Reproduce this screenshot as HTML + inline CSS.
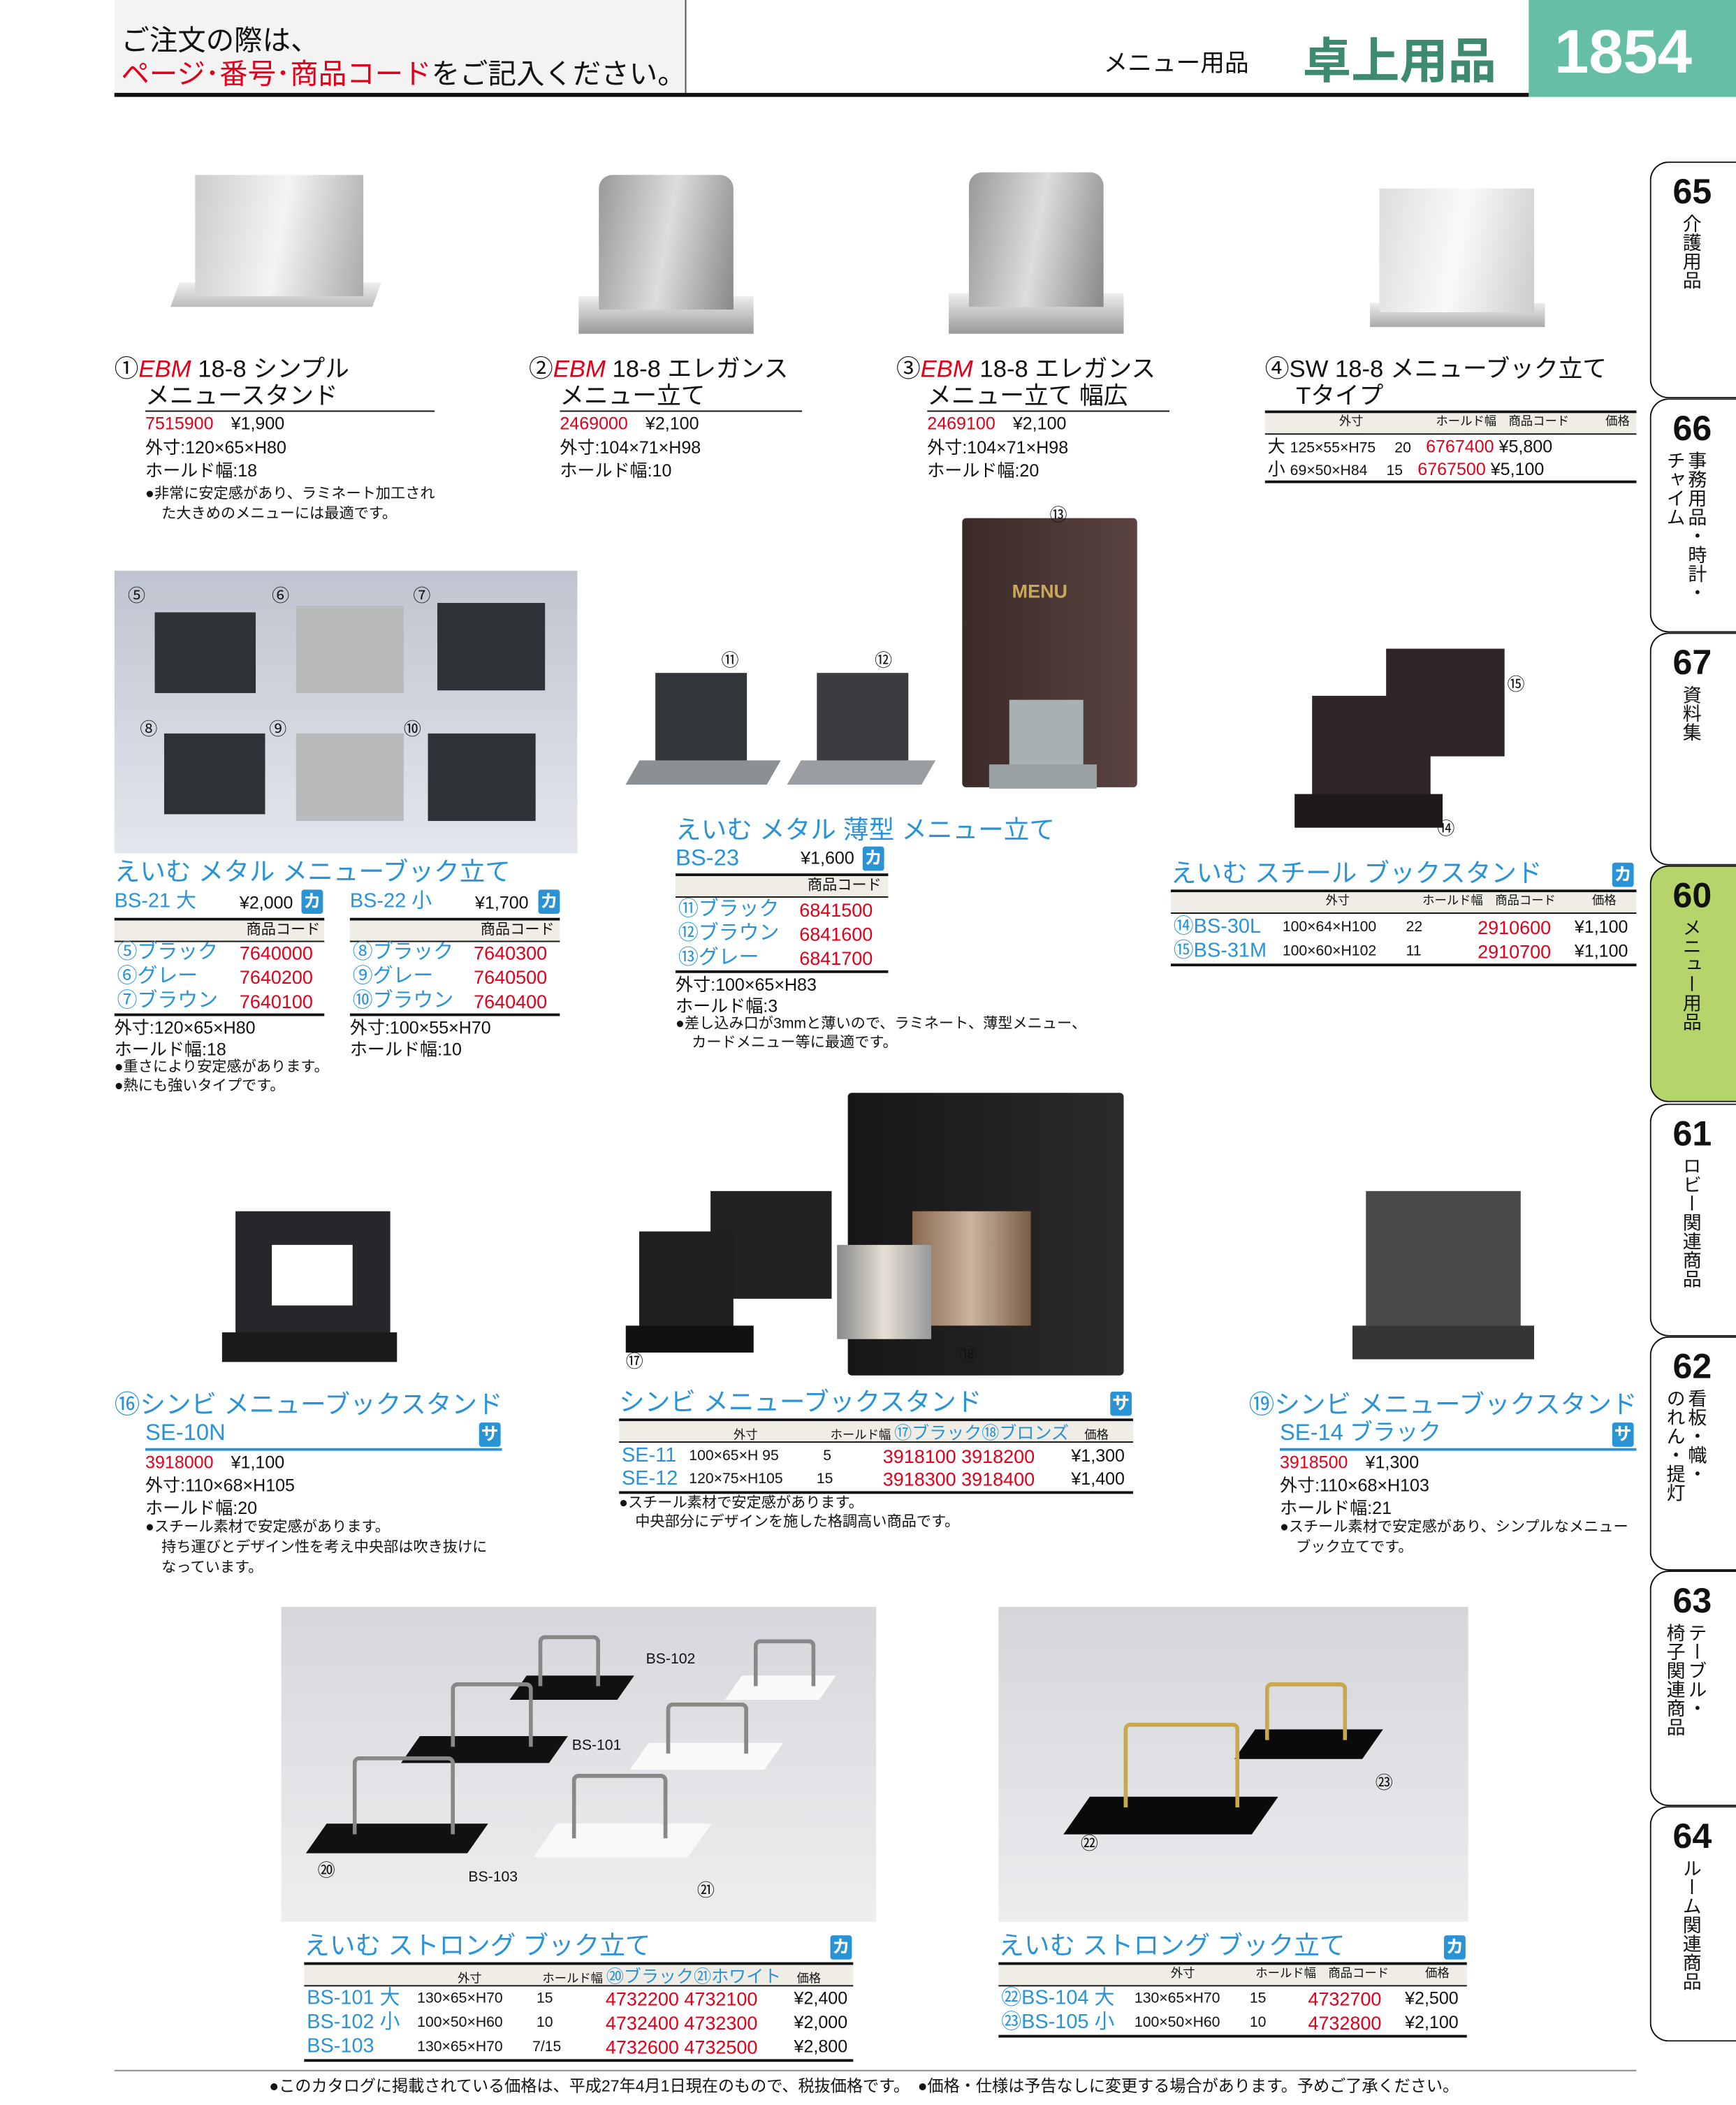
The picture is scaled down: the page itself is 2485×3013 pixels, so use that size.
<!DOCTYPE html>
<html><head><meta charset="utf-8">
<style>
html,body{margin:0;padding:0;background:#fff;}
body{width:2485px;height:3013px;overflow:hidden;position:relative;}
#w{position:absolute;left:0;top:0;width:1290px;height:1564px;transform:scale(1.92636);transform-origin:0 0;font-family:"Liberation Sans","Noto Sans CJK JP",sans-serif;color:#111;}
.t{position:absolute;white-space:nowrap;line-height:1;}
.b{color:#2a93d5;}
.r{color:#e0001a;}
.ttl{font-size:18px;}
.s{font-size:13px;}
.xs{font-size:11px;}
.ln{position:absolute;background:#111;height:2px;}
.hl{position:absolute;background:#111;height:1px;}
.hd{position:absolute;background:#f0ede6;}
.ka{position:absolute;background:#2a93d5;color:#fff;font-size:13px;font-weight:bold;width:16px;height:18px;text-align:center;line-height:18px;border-radius:2px;}
.tab{position:absolute;left:1226px;width:70px;border:1.5px solid #111;border-right:none;border-radius:14px 0 0 14px;background:#fff;box-sizing:border-box;}
.tab .n{position:absolute;left:16px;top:6px;font-size:26px;font-weight:bold;}
.tab .v{position:absolute;left:22px;top:38px;font-size:14px;writing-mode:vertical-rl;line-height:1.1;white-space:nowrap;}
.ph{position:absolute;}
</style></head><body><div id="w">

<!-- header -->
<div style="position:absolute;left:85px;top:0;width:425px;height:70px;background:#f3f3f3;"></div>
<div style="position:absolute;left:509px;top:0;width:1px;height:70px;background:#555;"></div>
<div class="t" style="left:90px;top:20px;font-size:21px;">ご注文の際は、</div>
<div class="t" style="left:90px;top:45px;font-size:21px;"><span class="r">ページ･番号･商品コード</span>をご記入ください。</div>
<div class="ln" style="left:85px;top:69px;width:1051px;height:3px;"></div>
<div class="t" style="left:820px;top:38px;font-size:18px;">メニュー用品</div>
<div class="t" style="left:968px;top:28px;font-size:36px;font-weight:bold;color:#3d8a70;">卓上用品</div>
<div style="position:absolute;left:1136px;top:0;width:154px;height:72px;background:#66bfa4;"></div>
<div class="t" style="left:1155px;top:15px;font-size:46px;font-weight:bold;color:#fff;">1854</div>

<!-- tabs -->
<div class="tab" style="top:120px;height:176px;"><div class="n">65</div><div class="v">介護用品</div></div>
<div class="tab" style="top:296px;height:174px;"><div class="n">66</div><div class="v" style="left:26px;">事務用品・時計・</div><div class="v" style="left:10px;">チャイム</div></div>
<div class="tab" style="top:470px;height:173px;"><div class="n">67</div><div class="v">資料集</div></div>
<div class="tab" style="top:643px;height:176px;background:#b5d56a;"><div class="n">60</div><div class="v">メニュー用品</div></div>
<div class="tab" style="top:820px;height:173px;"><div class="n">61</div><div class="v">ロビー関連商品</div></div>
<div class="tab" style="top:993px;height:174px;"><div class="n">62</div><div class="v" style="left:26px;">看板・幟・</div><div class="v" style="left:10px;">のれん・提灯</div></div>
<div class="tab" style="top:1167px;height:175px;"><div class="n">63</div><div class="v" style="left:26px;">テーブル・</div><div class="v" style="left:10px;">椅子関連商品</div></div>
<div class="tab" style="top:1342px;height:175px;"><div class="n">64</div><div class="v">ルーム関連商品</div></div>

<!-- row1 products images -->
<div class="ph" style="left:130px;top:210px;width:150px;height:18px;background:linear-gradient(#eee,#bbb);transform:skewX(-20deg);"></div>
<div class="ph" style="left:145px;top:130px;width:125px;height:90px;background:linear-gradient(100deg,#ccc,#f4f4f4 50%,#aaa);"></div>
<div class="ph" style="left:430px;top:220px;width:130px;height:28px;background:linear-gradient(#eee,#999);"></div>
<div class="ph" style="left:445px;top:130px;width:100px;height:100px;background:linear-gradient(100deg,#999,#ddd 50%,#888);border-radius:10px 10px 0 0;"></div>
<div class="ph" style="left:705px;top:218px;width:130px;height:30px;background:linear-gradient(#eee,#999);"></div>
<div class="ph" style="left:720px;top:128px;width:100px;height:100px;background:linear-gradient(100deg,#999,#ddd 50%,#888);border-radius:10px 10px 0 0;"></div>
<div class="ph" style="left:1018px;top:225px;width:130px;height:18px;background:linear-gradient(#eee,#aaa);"></div>
<div class="ph" style="left:1025px;top:140px;width:115px;height:92px;background:linear-gradient(100deg,#ddd,#fafafa 50%,#ccc);"></div>

<!-- row1 text -->
<div class="t ttl" style="left:85px;top:265px;">①<i class="r">EBM</i> 18-8 シンプル</div>
<div class="t ttl" style="left:108px;top:285px;">メニュースタンド</div>
<div class="hl" style="left:108px;top:305px;width:215px;"></div>
<div class="t s" style="left:108px;top:308px;"><span class="r">7515900</span>　¥1,900</div>
<div class="t s" style="left:108px;top:326px;">外寸:120×65×H80</div>
<div class="t s" style="left:108px;top:343px;">ホールド幅:18</div>
<div class="t xs" style="left:108px;top:362px;">●非常に安定感があり、ラミネート加工され</div>
<div class="t xs" style="left:120px;top:377px;">た大きめのメニューには最適です。</div>

<div class="t ttl" style="left:393px;top:265px;">②<i class="r">EBM</i> 18-8 エレガンス</div>
<div class="t ttl" style="left:416px;top:285px;">メニュー立て</div>
<div class="hl" style="left:416px;top:305px;width:180px;"></div>
<div class="t s" style="left:416px;top:308px;"><span class="r">2469000</span>　¥2,100</div>
<div class="t s" style="left:416px;top:326px;">外寸:104×71×H98</div>
<div class="t s" style="left:416px;top:343px;">ホールド幅:10</div>

<div class="t ttl" style="left:666px;top:265px;">③<i class="r">EBM</i> 18-8 エレガンス</div>
<div class="t ttl" style="left:689px;top:285px;">メニュー立て 幅広</div>
<div class="hl" style="left:689px;top:305px;width:180px;"></div>
<div class="t s" style="left:689px;top:308px;"><span class="r">2469100</span>　¥2,100</div>
<div class="t s" style="left:689px;top:326px;">外寸:104×71×H98</div>
<div class="t s" style="left:689px;top:343px;">ホールド幅:20</div>

<div class="t ttl" style="left:940px;top:265px;">④SW 18-8 メニューブック立て</div>
<div class="t ttl" style="left:963px;top:285px;">Tタイプ</div>
<div class="ln" style="left:940px;top:305px;width:276px;"></div>
<div class="hd" style="left:940px;top:307px;width:276px;height:15px;"></div>
<div class="t" style="left:995px;top:309px;font-size:9px;">外寸　　　　　　ホールド幅　商品コード　　　価格</div>
<div class="hl" style="left:940px;top:322px;width:276px;"></div>
<div class="t s" style="left:942px;top:325px;">大 <span class="xs">125×55×H75　 20　</span><span class="r">6767400</span> ¥5,800</div>
<div class="t s" style="left:942px;top:342px;">小 <span class="xs">69×50×H84　 15　</span><span class="r">6767500</span> ¥5,100</div>
<div class="ln" style="left:940px;top:357px;width:276px;"></div>

<!-- photo BS-21/22 -->
<div class="ph" style="left:85px;top:424px;width:344px;height:210px;background:linear-gradient(#bfc4d0,#e3e6ec);"></div>
<div class="ph" style="left:115px;top:455px;width:75px;height:60px;background:#2e3236;"></div>
<div class="ph" style="left:220px;top:450px;width:80px;height:65px;background:#b8babc;"></div>
<div class="ph" style="left:325px;top:448px;width:80px;height:65px;background:#2e3236;"></div>
<div class="ph" style="left:122px;top:545px;width:75px;height:60px;background:#2e3236;"></div>
<div class="ph" style="left:220px;top:545px;width:80px;height:65px;background:#b8babc;"></div>
<div class="ph" style="left:318px;top:545px;width:80px;height:65px;background:#2e3236;"></div>
<div class="t s" style="left:95px;top:436px;">⑤</div><div class="t s" style="left:202px;top:436px;">⑥</div><div class="t s" style="left:307px;top:436px;">⑦</div>
<div class="t s" style="left:104px;top:535px;">⑧</div><div class="t s" style="left:200px;top:535px;">⑨</div><div class="t s" style="left:300px;top:535px;">⑩</div>

<div class="t b" style="left:85px;top:639px;font-size:19px;">えいむ メタル メニューブック立て</div>
<div class="t b" style="left:85px;top:662px;font-size:15px;">BS-21 大</div><div class="t s" style="left:178px;top:664px;">¥2,000</div><div class="ka" style="left:224px;top:661px;">カ</div>
<div class="t b" style="left:260px;top:662px;font-size:15px;">BS-22 小</div><div class="t s" style="left:353px;top:664px;">¥1,700</div><div class="ka" style="left:400px;top:661px;">カ</div>
<div class="ln" style="left:85px;top:682px;width:156px;"></div><div class="ln" style="left:260px;top:682px;width:156px;"></div>
<div class="hd" style="left:85px;top:684px;width:156px;height:15px;"></div><div class="hd" style="left:260px;top:684px;width:156px;height:15px;"></div>
<div class="t xs" style="left:183px;top:686px;">商品コード</div><div class="t xs" style="left:357px;top:686px;">商品コード</div>
<div class="hl" style="left:85px;top:699px;width:156px;"></div><div class="hl" style="left:260px;top:699px;width:156px;"></div>
<div class="t b" style="left:87px;top:700px;font-size:15px;">⑤ブラック</div><div class="t r" style="left:178px;top:701px;font-size:14px;">7640000</div>
<div class="t b" style="left:87px;top:718px;font-size:15px;">⑥グレー</div><div class="t r" style="left:178px;top:719px;font-size:14px;">7640200</div>
<div class="t b" style="left:87px;top:736px;font-size:15px;">⑦ブラウン</div><div class="t r" style="left:178px;top:737px;font-size:14px;">7640100</div>
<div class="t b" style="left:262px;top:700px;font-size:15px;">⑧ブラック</div><div class="t r" style="left:352px;top:701px;font-size:14px;">7640300</div>
<div class="t b" style="left:262px;top:718px;font-size:15px;">⑨グレー</div><div class="t r" style="left:352px;top:719px;font-size:14px;">7640500</div>
<div class="t b" style="left:262px;top:736px;font-size:15px;">⑩ブラウン</div><div class="t r" style="left:352px;top:737px;font-size:14px;">7640400</div>
<div class="ln" style="left:85px;top:753px;width:156px;"></div><div class="ln" style="left:260px;top:753px;width:156px;"></div>
<div class="t s" style="left:85px;top:757px;">外寸:120×65×H80</div><div class="t s" style="left:260px;top:757px;">外寸:100×55×H70</div>
<div class="t s" style="left:85px;top:773px;">ホールド幅:18</div><div class="t s" style="left:260px;top:773px;">ホールド幅:10</div>
<div class="t xs" style="left:85px;top:788px;">●重さにより安定感があります。</div>
<div class="t xs" style="left:85px;top:802px;">●熱にも強いタイプです。</div>

<!-- BS-23 -->
<div class="ph" style="left:715px;top:385px;width:130px;height:200px;background:linear-gradient(90deg,#3a2a28,#5a4340);border-radius:3px;"></div>
<div class="t" style="left:752px;top:432px;font-size:14px;color:#c9a85a;font-weight:bold;">MENU</div>
<div class="ph" style="left:750px;top:520px;width:55px;height:50px;background:#a9b0b4;"></div>
<div class="ph" style="left:735px;top:568px;width:80px;height:18px;background:#9aa1a5;"></div>
<div class="ph" style="left:487px;top:500px;width:68px;height:70px;background:#33363a;"></div>
<div class="ph" style="left:470px;top:565px;width:105px;height:18px;background:#8a9094;transform:skewX(-30deg);"></div>
<div class="ph" style="left:607px;top:500px;width:68px;height:70px;background:#3a3c40;"></div>
<div class="ph" style="left:590px;top:565px;width:100px;height:18px;background:#9a9ea2;transform:skewX(-30deg);"></div>
<div class="t s" style="left:536px;top:484px;">⑪</div><div class="t s" style="left:650px;top:484px;">⑫</div><div class="t s" style="left:780px;top:376px;">⑬</div>
<div class="t b" style="left:502px;top:608px;font-size:19px;">えいむ メタル 薄型 メニュー立て</div>
<div class="t b" style="left:502px;top:629px;font-size:17px;">BS-23</div><div class="t s" style="left:595px;top:631px;">¥1,600</div><div class="ka" style="left:641px;top:629px;">カ</div>
<div class="ln" style="left:502px;top:649px;width:158px;"></div>
<div class="hd" style="left:502px;top:651px;width:158px;height:15px;"></div>
<div class="t xs" style="left:600px;top:653px;">商品コード</div>
<div class="hl" style="left:502px;top:666px;width:158px;"></div>
<div class="t b" style="left:504px;top:668px;font-size:15px;">⑪ブラック</div><div class="t r" style="left:594px;top:669px;font-size:14px;">6841500</div>
<div class="t b" style="left:504px;top:686px;font-size:15px;">⑫ブラウン</div><div class="t r" style="left:594px;top:687px;font-size:14px;">6841600</div>
<div class="t b" style="left:504px;top:704px;font-size:15px;">⑬グレー</div><div class="t r" style="left:594px;top:705px;font-size:14px;">6841700</div>
<div class="ln" style="left:502px;top:721px;width:158px;"></div>
<div class="t s" style="left:502px;top:725px;">外寸:100×65×H83</div>
<div class="t s" style="left:502px;top:741px;">ホールド幅:3</div>
<div class="t xs" style="left:502px;top:756px;">●差し込み口が3mmと薄いので、ラミネート、薄型メニュー、</div>
<div class="t xs" style="left:514px;top:770px;">カードメニュー等に最適です。</div>

<!-- BS-30L -->
<div class="ph" style="left:1030px;top:482px;width:88px;height:80px;background:#2e2628;"></div>
<div class="ph" style="left:975px;top:517px;width:88px;height:80px;background:#2e2628;"></div>
<div class="ph" style="left:962px;top:590px;width:110px;height:25px;background:#1e1a1b;"></div>
<div class="t s" style="left:1120px;top:502px;">⑮</div><div class="t s" style="left:1068px;top:609px;">⑭</div>
<div class="t b" style="left:870px;top:640px;font-size:19px;">えいむ スチール ブックスタンド</div><div class="ka" style="left:1198px;top:641px;">カ</div>
<div class="ln" style="left:870px;top:661px;width:346px;"></div>
<div class="hd" style="left:870px;top:663px;width:346px;height:15px;"></div>
<div class="t" style="left:985px;top:665px;font-size:9px;">外寸　　　　　　ホールド幅　商品コード　　　価格</div>
<div class="hl" style="left:870px;top:678px;width:346px;"></div>
<div class="t b" style="left:872px;top:681px;font-size:15px;">⑭BS-30L</div><div class="t xs" style="left:953px;top:684px;">100×64×H100　　22</div><div class="t r" style="left:1098px;top:682px;font-size:14px;">2910600</div><div class="t s" style="left:1170px;top:682px;">¥1,100</div>
<div class="t b" style="left:872px;top:699px;font-size:15px;">⑮BS-31M</div><div class="t xs" style="left:953px;top:702px;">100×60×H102　　11</div><div class="t r" style="left:1098px;top:700px;font-size:14px;">2910700</div><div class="t s" style="left:1170px;top:700px;">¥1,100</div>
<div class="ln" style="left:870px;top:716px;width:346px;"></div>

<!-- SE-10N -->
<div class="ph" style="left:175px;top:900px;width:115px;height:95px;background:#25272a;"></div>
<div class="ph" style="left:202px;top:925px;width:60px;height:45px;background:#fff;"></div>
<div class="ph" style="left:165px;top:990px;width:130px;height:22px;background:#1a1b1d;"></div>
<div class="t b" style="left:85px;top:1035px;font-size:19px;">⑯シンビ メニューブックスタンド</div>
<div class="t b" style="left:108px;top:1056px;font-size:17px;">SE-10N</div><div class="ka" style="left:356px;top:1057px;">サ</div>
<div class="hl" style="left:108px;top:1076px;width:265px;height:2px;background:#2a93d5;"></div>
<div class="t s" style="left:108px;top:1080px;"><span class="r">3918000</span>　¥1,100</div>
<div class="t s" style="left:108px;top:1097px;">外寸:110×68×H105</div>
<div class="t s" style="left:108px;top:1114px;">ホールド幅:20</div>
<div class="t xs" style="left:108px;top:1130px;">●スチール素材で安定感があります。</div>
<div class="t xs" style="left:120px;top:1145px;">持ち運びとデザイン性を考え中央部は吹き抜けに</div>
<div class="t xs" style="left:120px;top:1160px;">なっています。</div>

<!-- SE-11 -->
<div class="ph" style="left:630px;top:812px;width:205px;height:210px;background:linear-gradient(90deg,#161616,#2b2b2b);border-radius:3px;"></div>
<div class="ph" style="left:528px;top:885px;width:90px;height:80px;background:#222;"></div>
<div class="ph" style="left:475px;top:915px;width:70px;height:75px;background:#1f1f1f;"></div>
<div class="ph" style="left:465px;top:985px;width:95px;height:20px;background:#111;"></div>
<div class="ph" style="left:678px;top:900px;width:88px;height:85px;background:linear-gradient(90deg,#8a6a50,#c9b4a0 50%,#7a5e46);"></div>
<div class="ph" style="left:622px;top:925px;width:70px;height:70px;background:linear-gradient(90deg,#888,#e6e0d4 50%,#999);"></div>
<div class="t s" style="left:465px;top:1005px;">⑰</div><div class="t s" style="left:713px;top:1000px;">⑱</div>
<div class="t b" style="left:460px;top:1033px;font-size:19px;">シンビ メニューブックスタンド</div><div class="ka" style="left:825px;top:1034px;">サ</div>
<div class="ln" style="left:460px;top:1054px;width:382px;"></div>
<div class="hd" style="left:460px;top:1056px;width:382px;height:15px;"></div>
<div class="t" style="left:545px;top:1058px;font-size:9px;">外寸　　　　　　ホールド幅 <span class="b" style="font-size:13px;">⑰ブラック⑱ブロンズ</span>　 価格</div>
<div class="hl" style="left:460px;top:1071px;width:382px;"></div>
<div class="t b" style="left:462px;top:1074px;font-size:15px;">SE-11</div><div class="t xs" style="left:512px;top:1077px;">100×65×H 95　　　5</div><div class="t r" style="left:656px;top:1075px;font-size:14px;">3918100 3918200</div><div class="t s" style="left:796px;top:1075px;">¥1,300</div>
<div class="t b" style="left:462px;top:1091px;font-size:15px;">SE-12</div><div class="t xs" style="left:512px;top:1094px;">120×75×H105　　 15</div><div class="t r" style="left:656px;top:1092px;font-size:14px;">3918300 3918400</div><div class="t s" style="left:796px;top:1092px;">¥1,400</div>
<div class="ln" style="left:460px;top:1108px;width:382px;"></div>
<div class="t xs" style="left:460px;top:1112px;">●スチール素材で安定感があります。</div>
<div class="t xs" style="left:472px;top:1126px;">中央部分にデザインを施した格調高い商品です。</div>

<!-- SE-14 -->
<div class="ph" style="left:1015px;top:885px;width:115px;height:100px;background:#4a4a48;"></div>
<div class="ph" style="left:1005px;top:985px;width:135px;height:25px;background:#353533;"></div>
<div class="t b" style="left:928px;top:1035px;font-size:19px;">⑲シンビ メニューブックスタンド</div>
<div class="t b" style="left:951px;top:1056px;font-size:17px;">SE-14 ブラック</div><div class="ka" style="left:1198px;top:1057px;">サ</div>
<div class="hl" style="left:951px;top:1076px;width:265px;height:2px;background:#2a93d5;"></div>
<div class="t s" style="left:951px;top:1080px;"><span class="r">3918500</span>　¥1,300</div>
<div class="t s" style="left:951px;top:1097px;">外寸:110×68×H103</div>
<div class="t s" style="left:951px;top:1114px;">ホールド幅:21</div>
<div class="t xs" style="left:951px;top:1130px;">●スチール素材で安定感があり、シンプルなメニュー</div>
<div class="t xs" style="left:963px;top:1145px;">ブック立てです。</div>

<!-- bottom photo left -->
<div class="ph" style="left:209px;top:1194px;width:442px;height:234px;background:linear-gradient(#d6d7dc,#eeeef0);"></div>
<div class="ph" style="left:235px;top:1355px;width:120px;height:22px;background:#111;transform:skewX(-35deg);"></div>
<div class="ph" style="left:305px;top:1290px;width:110px;height:20px;background:#111;transform:skewX(-35deg);"></div>
<div class="ph" style="left:385px;top:1245px;width:80px;height:18px;background:#111;transform:skewX(-35deg);"></div>
<div class="ph" style="left:405px;top:1355px;width:115px;height:25px;background:#f8f8f8;transform:skewX(-35deg);"></div>
<div class="ph" style="left:475px;top:1295px;width:100px;height:20px;background:#fafafa;transform:skewX(-35deg);"></div>
<div class="ph" style="left:545px;top:1245px;width:70px;height:18px;background:#fafafa;transform:skewX(-35deg);"></div>
<div class="ph" style="left:262px;top:1305px;width:70px;height:55px;border:3px solid #888;border-bottom:none;border-radius:5px 5px 0 0;"></div>
<div class="ph" style="left:335px;top:1250px;width:55px;height:45px;border:3px solid #888;border-bottom:none;border-radius:5px 5px 0 0;"></div>
<div class="ph" style="left:400px;top:1215px;width:40px;height:35px;border:3px solid #888;border-bottom:none;border-radius:5px 5px 0 0;"></div>
<div class="ph" style="left:425px;top:1318px;width:65px;height:45px;border:3px solid #888;border-bottom:none;border-radius:5px 5px 0 0;"></div>
<div class="ph" style="left:495px;top:1265px;width:55px;height:35px;border:3px solid #888;border-bottom:none;border-radius:5px 5px 0 0;"></div>
<div class="ph" style="left:560px;top:1218px;width:40px;height:32px;border:3px solid #888;border-bottom:none;border-radius:5px 5px 0 0;"></div>
<div class="t xs" style="left:480px;top:1228px;">BS-102</div><div class="t xs" style="left:425px;top:1292px;">BS-101</div><div class="t xs" style="left:348px;top:1390px;">BS-103</div>
<div class="t s" style="left:236px;top:1383px;">⑳</div><div class="t s" style="left:518px;top:1398px;">㉑</div>

<div class="t b" style="left:226px;top:1437px;font-size:19px;">えいむ ストロング ブック立て</div><div class="ka" style="left:617px;top:1438px;">カ</div>
<div class="ln" style="left:226px;top:1458px;width:408px;"></div>
<div class="hd" style="left:226px;top:1460px;width:408px;height:15px;"></div>
<div class="t" style="left:340px;top:1462px;font-size:9px;">外寸　　　　　ホールド幅 <span class="b" style="font-size:13px;">⑳ブラック㉑ホワイト</span>　 価格</div>
<div class="hl" style="left:226px;top:1475px;width:408px;"></div>
<div class="t b" style="left:228px;top:1477px;font-size:15px;">BS-101 大</div><div class="t xs" style="left:310px;top:1480px;">130×65×H70　　 15</div><div class="t r" style="left:450px;top:1478px;font-size:14px;">4732200 4732100</div><div class="t s" style="left:590px;top:1478px;">¥2,400</div>
<div class="t b" style="left:228px;top:1495px;font-size:15px;">BS-102 小</div><div class="t xs" style="left:310px;top:1498px;">100×50×H60　　 10</div><div class="t r" style="left:450px;top:1496px;font-size:14px;">4732400 4732300</div><div class="t s" style="left:590px;top:1496px;">¥2,000</div>
<div class="t b" style="left:228px;top:1513px;font-size:15px;">BS-103</div><div class="t xs" style="left:310px;top:1516px;">130×65×H70　　7/15</div><div class="t r" style="left:450px;top:1514px;font-size:14px;">4732600 4732500</div><div class="t s" style="left:590px;top:1514px;">¥2,800</div>
<div class="ln" style="left:226px;top:1530px;width:408px;"></div>

<!-- bottom photo right -->
<div class="ph" style="left:742px;top:1194px;width:349px;height:234px;background:linear-gradient(#d4d6da,#ececef);"></div>
<div class="ph" style="left:800px;top:1335px;width:140px;height:28px;background:#0a0a0a;transform:skewX(-35deg);"></div>
<div class="ph" style="left:925px;top:1285px;width:95px;height:22px;background:#0a0a0a;transform:skewX(-35deg);"></div>
<div class="ph" style="left:835px;top:1280px;width:80px;height:60px;border:3px solid #c8a84a;border-bottom:none;border-radius:5px 5px 0 0;"></div>
<div class="ph" style="left:940px;top:1250px;width:55px;height:40px;border:3px solid #c8a84a;border-bottom:none;border-radius:5px 5px 0 0;"></div>
<div class="t s" style="left:1022px;top:1318px;">㉓</div><div class="t s" style="left:803px;top:1363px;">㉒</div>
<div class="t b" style="left:742px;top:1437px;font-size:19px;">えいむ ストロング ブック立て</div><div class="ka" style="left:1073px;top:1438px;">カ</div>
<div class="ln" style="left:742px;top:1458px;width:348px;"></div>
<div class="hd" style="left:742px;top:1460px;width:348px;height:15px;"></div>
<div class="t" style="left:870px;top:1462px;font-size:9px;">外寸　　　　　ホールド幅　商品コード　　　価格</div>
<div class="hl" style="left:742px;top:1475px;width:348px;"></div>
<div class="t b" style="left:744px;top:1477px;font-size:15px;">㉒BS-104 大</div><div class="t xs" style="left:843px;top:1480px;">130×65×H70　　15</div><div class="t r" style="left:972px;top:1478px;font-size:14px;">4732700</div><div class="t s" style="left:1044px;top:1478px;">¥2,500</div>
<div class="t b" style="left:744px;top:1495px;font-size:15px;">㉓BS-105 小</div><div class="t xs" style="left:843px;top:1498px;">100×50×H60　　10</div><div class="t r" style="left:972px;top:1496px;font-size:14px;">4732800</div><div class="t s" style="left:1044px;top:1496px;">¥2,100</div>
<div class="ln" style="left:742px;top:1512px;width:348px;"></div>

<!-- footer -->
<div class="hl" style="left:85px;top:1538px;width:1131px;background:#888;"></div>
<div class="t" style="left:200px;top:1544px;font-size:12px;">●このカタログに掲載されている価格は、平成27年4月1日現在のもので、税抜価格です。　●価格・仕様は予告なしに変更する場合があります。予めご了承ください。</div>

</div></body></html>
